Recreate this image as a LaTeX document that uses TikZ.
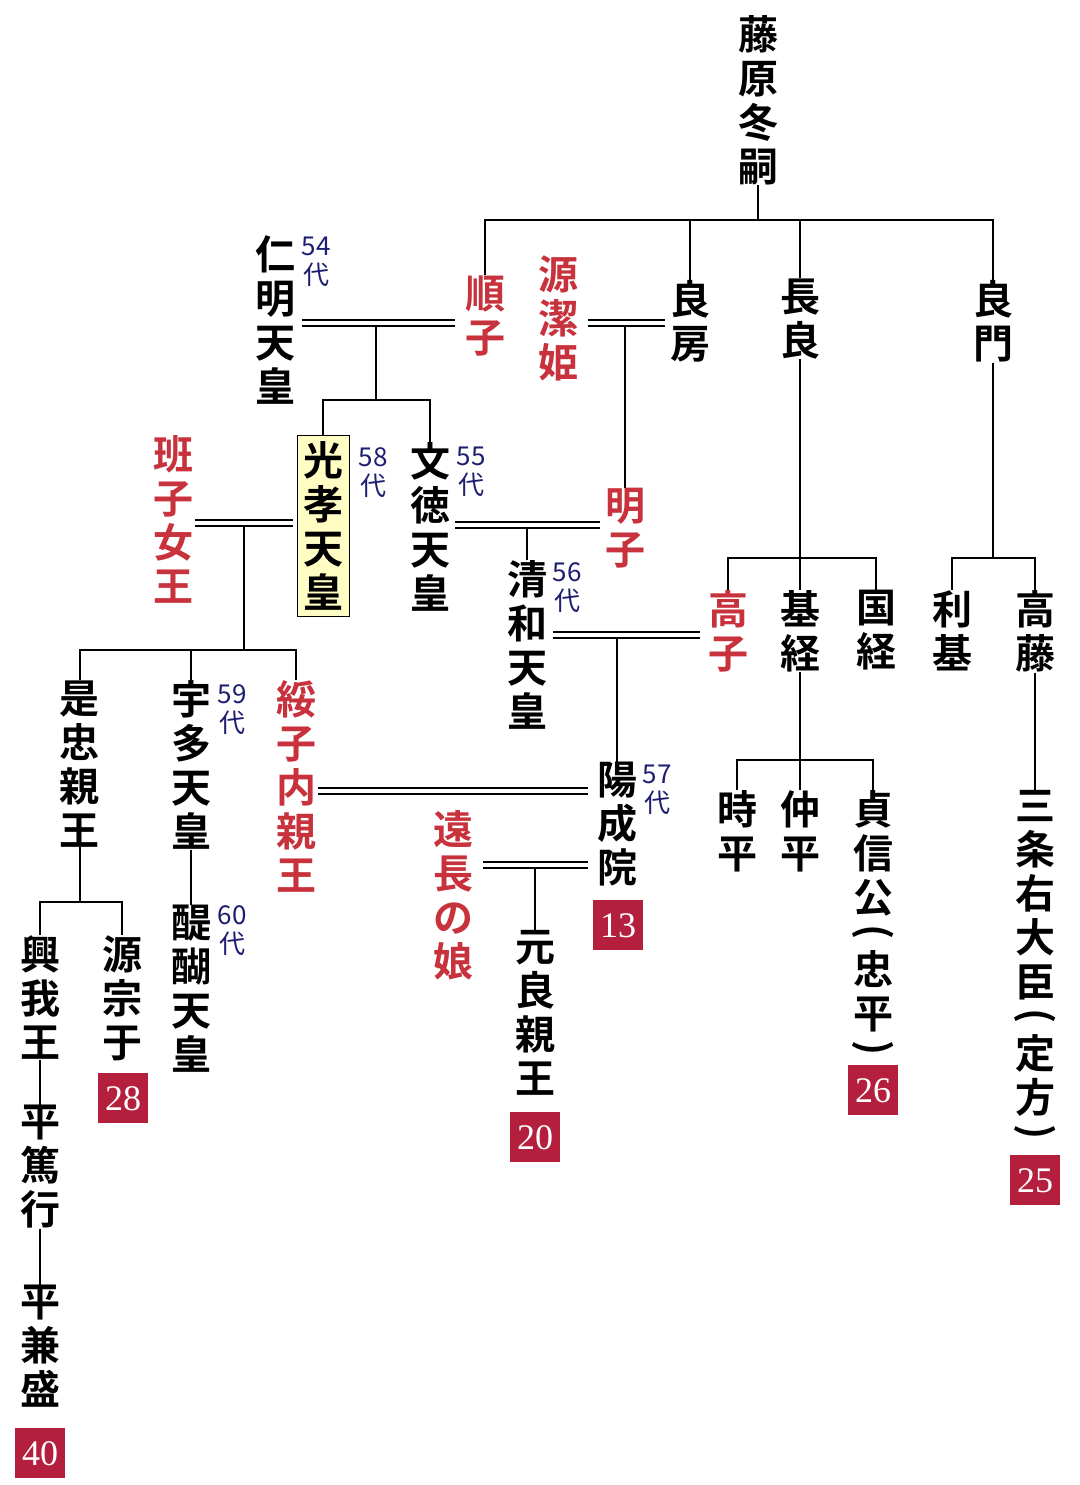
\documentclass[tikz,border=0pt]{standalone}
\usepackage{fontspec}
\usepackage{graphicx}
\newfontfamily\cjk{Noto Sans CJK JP}[BoldFont={* Bold}]
\newfontfamily\numf{Liberation Serif}
\definecolor{rd}{HTML}{C8323C}
\definecolor{nv}{HTML}{1E1E70}
\definecolor{bd}{HTML}{B51F3E}
\definecolor{yl}{HTML}{FFFCC4}
\newcommand\vpo{\rotatebox[origin=c]{-90}{(}}
\newcommand\vpc{\rotatebox[origin=c]{-90}{)}}
\begin{document}
\begin{tikzpicture}[x=0.5pt,y=-0.5pt,
 nm/.style={font=\cjk\bfseries\fontsize{20}{22}\selectfont,align=center,inner sep=0pt,anchor=north},
 rn/.style={nm,text=rd},
 dai/.style={font=\cjk\fontsize{13}{14.5}\selectfont,align=center,inner sep=0pt,anchor=north,text=nv},
 bg/.style={fill=bd,text=white,font=\numf\fontsize{18}{18}\selectfont,minimum width=25pt,minimum height=25pt,inner sep=0pt,anchor=north},
 ln/.style={line width=1pt},
 dl/.style={double,double distance=2.2pt,line width=0.8pt}]
\useasboundingbox (0,0) rectangle (1080,1485);
\fill[white] (0,0) rectangle (1080,1485);
% top
\node[nm] (fuyu) at (758,15) {藤\\原\\冬\\嗣};
\node[rn] (jun) at (485,275) {順\\子};
\node[rn] (kiyo) at (558,255) {源\\潔\\姫};
\node[nm] (yfusa) at (690,280) {良\\房};
\node[nm] (naga) at (800,278) {長\\良};
\node[nm] (ykado) at (993,280) {良\\門};
\node[nm] (nin) at (275,235) {仁\\明\\天\\皇};
\node[dai] at (316,237) {54\\代};
\coordinate (b1) at (758,220);
\draw[ln] (fuyu.south) -- (b1);
\draw[ln] (jun.north) |- (b1) -| (ykado.north);
\draw[ln] (yfusa.north) -- (690,220);
\draw[ln] (naga.north) -- (800,220);
\draw[dl] (302,323) -- (455,323);
\draw[dl] (588,323) -- (665,323);
% second
\node[nm,draw,fill=yl,inner sep=3pt] (koko) at (323,435) {光\\孝\\天\\皇};
\node[dai] at (373,447) {58\\代};
\node[nm] (mon) at (430,442) {文\\徳\\天\\皇};
\node[dai] at (471,447) {55\\代};
\node[rn] (aki) at (625,488) {明\\子};
\draw[ln] (376,326) -- (376,400);
\draw[ln] (koko.north) |- (376,400) -| (mon.north);
\draw[ln] (625,326) -- (aki.north);
\draw[dl] (455,525) -- (600,525);
\node[nm] (sei) at (527,560) {清\\和\\天\\皇};
\node[dai] at (567,562) {56\\代};
\draw[ln] (527,528) -- (sei.north);
\node[rn] (han) at (173,435) {班\\子\\女\\王};
\draw[dl] (195,523) -- (293,523);
\node[nm] (kore) at (80,680) {是\\忠\\親\\王};
\node[nm] (uda) at (191,680) {宇\\多\\天\\皇};
\node[dai] at (232,684) {59\\代};
\node[rn] (jushi) at (296,680) {綏\\子\\内\\親\\王};
\draw[ln] (244,526) -- (244,650);
\draw[ln] (kore.north) |- (244,650) -| (jushi.north);
\draw[ln] (uda.north) -- (191,650);
% nagayoshi branch
\node[rn] (taka) at (728,590) {高\\子};
\node[nm] (moto) at (800,590) {基\\経};
\node[nm] (kuni) at (876,590) {国\\経};
\draw[ln] (naga.south) -- (moto.north);
\draw[ln] (taka.north) |- (800,558) -| (kuni.north);
\node[nm] (toki) at (737,790) {時\\平};
\node[nm] (naka) at (800,790) {仲\\平};
\node[nm] (tei) at (873,790) {貞\\信\\公\\[-6pt]\vpo\\[-2pt]忠\\平\\[-6pt]\vpc};
\draw[ln] (moto.south) -- (naka.north);
\draw[ln] (toki.north) |- (800,760) -| (tei.north);
\node[bg] (b26) at (873,1065) {26};
% yoshikado branch
\node[nm] (toshi) at (952,590) {利\\基};
\node[nm] (tfuji) at (1035,590) {高\\藤};
\draw[ln] (ykado.south) -- (993,558);
\draw[ln] (toshi.north) |- (993,558) -| (tfuji.north);
\node[nm] (sanjo) at (1035,790) {三\\条\\右\\大\\臣\\[-6pt]\vpo\\[-2pt]定\\方\\[-6pt]\vpc};
\draw[ln] (tfuji.south) -- (sanjo.north);
\node[bg] (b25) at (1035,1155) {25};
% seiwa
\draw[dl] (553,635) -- (700,635);
\node[nm] (yozei) at (617,762) {陽\\成\\院};
\node[dai] at (657,765) {57\\代};
\draw[ln] (617,638) -- (yozei.north);
\node[bg] (b13) at (618,900) {13};
\draw[dl] (318,791) -- (588,791);
\node[rn] (too) at (453,810) {遠\\長\\の\\娘};
\draw[dl] (483,865) -- (588,865);
\node[nm] (motoyo) at (535,930) {元\\良\\親\\王};
\draw[ln] (535,868) -- (motoyo.north);
\node[bg] (b20) at (535,1112) {20};
% koretada
\node[nm] (oki) at (40,935) {興\\我\\王};
\node[nm] (mune) at (122,935) {源\\宗\\于};
\draw[ln] (kore.south) -- (80,902);
\draw[ln] (oki.north) |- (80,902) -| (mune.north);
\node[bg] (b28) at (123,1073) {28};
\node[nm] (atsu) at (40,1105) {平\\篤\\行};
\node[nm] (kane) at (40,1285) {平\\兼\\盛};
\draw[ln] (oki.south) -- (atsu.north);
\draw[ln] (atsu.south) -- (kane.north);
\node[bg] (b40) at (40,1428) {40};
% uda
\node[nm] (dai) at (191,905) {醍\\醐\\天\\皇};
\node[dai] at (232,905) {60\\代};
\draw[ln] (uda.south) -- (dai.north);
\end{tikzpicture}
\end{document}
